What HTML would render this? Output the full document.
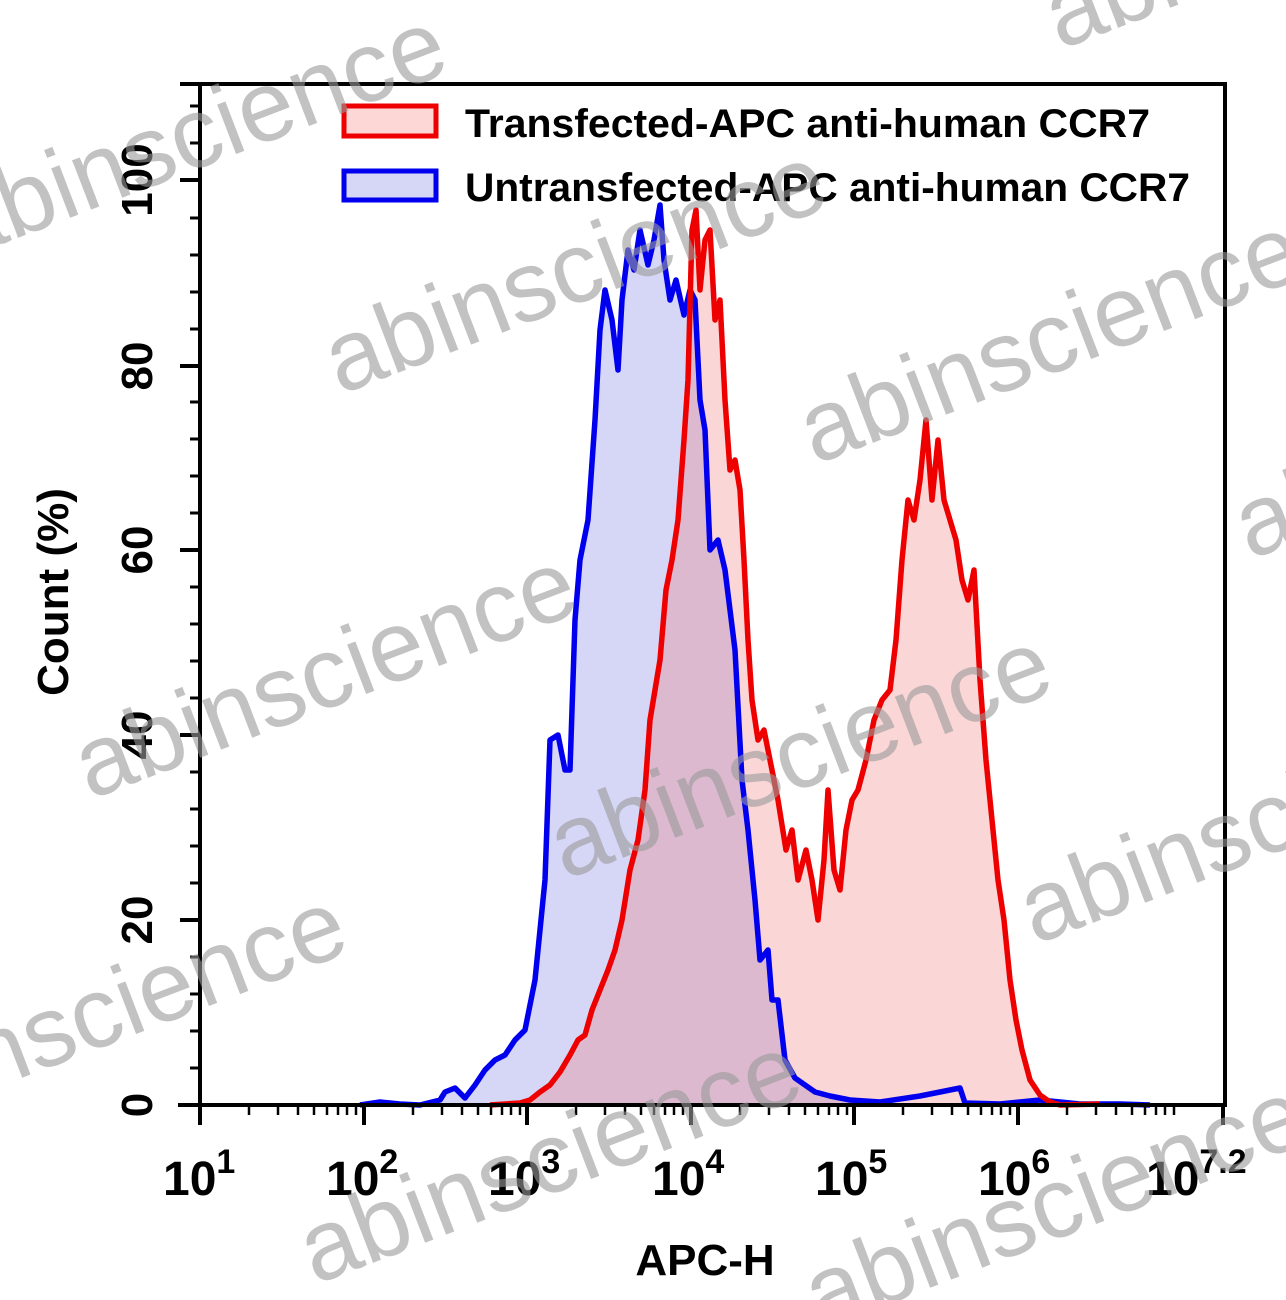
<!DOCTYPE html>
<html><head><meta charset="utf-8"><style>
html,body{margin:0;padding:0;background:#fff;}
svg{display:block;}
text{font-family:"Liberation Sans",Arial,sans-serif;}
</style></head><body>
<svg width="1286" height="1300" viewBox="0 0 1286 1300" xmlns="http://www.w3.org/2000/svg">
<polygon fill="#d6d6f7" points="440,1105 445,1095 455,1088 465,1098 475,1085 485,1070 495,1060 505,1055 515,1040 525,1030 535,980 545,880 550,740 558,735 565,770 570,770 575,620 580,560 588,520 595,420 600,330 605,290 612,320 618,370 622,300 628,250 634,270 640,230 648,265 654,240 660,205 664,260 670,300 676,280 684,315 690,290 695,300 700,400 705,430 710,550 718,540 725,570 730,610 735,650 742,780 748,830 755,900 760,960 768,950 772,1000 778,1000 785,1060 795,1078 805,1085 815,1092 830,1096 850,1100 880,1102 900,1105"/>
<polygon fill="rgba(240,120,120,0.3)" points="520,1105 530,1100 540,1092 550,1085 560,1072 570,1055 578,1040 585,1035 592,1010 600,990 608,970 615,950 622,920 630,870 638,840 645,790 650,720 655,690 660,660 666,590 672,560 678,520 684,440 688,380 692,230 696,210 700,290 705,240 710,230 715,320 720,300 725,400 730,470 735,460 740,490 744,560 748,640 752,700 758,740 764,730 770,760 778,800 786,850 792,830 798,880 806,850 812,880 818,920 824,860 828,790 834,870 840,890 846,830 852,800 858,790 866,760 874,720 882,700 890,690 896,640 902,560 908,500 914,520 920,480 926,420 932,500 938,440 944,500 950,520 956,540 962,580 968,600 974,570 980,680 986,760 992,820 998,880 1004,920 1010,980 1016,1020 1022,1050 1030,1080 1040,1095 1050,1102 1060,1105"/>
<polyline fill="none" stroke="#0000ee" stroke-width="5.5" stroke-linejoin="round" points="360,1105 380,1102 400,1104 420,1105 440,1100 445,1092 455,1088 465,1098 475,1085 485,1070 495,1060 505,1055 515,1040 525,1030 535,980 545,880 550,740 558,735 565,770 570,770 575,620 580,560 588,520 595,420 600,330 605,290 612,320 618,370 622,300 628,250 634,270 640,230 648,265 654,240 660,205 664,260 670,300 676,280 684,315 690,290 695,300 700,400 705,430 710,550 718,540 725,570 730,610 735,650 742,780 748,830 755,900 760,960 768,950 772,1000 778,1000 785,1060 795,1078 805,1085 815,1092 830,1096 850,1100 880,1102 920,1096 960,1088 965,1103 1000,1104 1040,1100 1080,1104 1120,1104 1150,1105"/>
<polyline fill="none" stroke="#ee0000" stroke-width="5.5" stroke-linejoin="round" points="490,1105 520,1103 530,1100 540,1092 550,1085 560,1072 570,1055 578,1040 585,1035 592,1010 600,990 608,970 615,950 622,920 630,870 638,840 645,790 650,720 655,690 660,660 666,590 672,560 678,520 684,440 688,380 692,230 696,210 700,290 705,240 710,230 715,320 720,300 725,400 730,470 735,460 740,490 744,560 748,640 752,700 758,740 764,730 770,760 778,800 786,850 792,830 798,880 806,850 812,880 818,920 824,860 828,790 834,870 840,890 846,830 852,800 858,790 866,760 874,720 882,700 890,690 896,640 902,560 908,500 914,520 920,480 926,420 932,500 938,440 944,500 950,520 956,540 962,580 968,600 974,570 980,680 986,760 992,820 998,880 1004,920 1010,980 1016,1020 1022,1050 1030,1080 1040,1095 1050,1102 1060,1105 1100,1104"/>
<rect x="200" y="84" width="1025" height="1021" fill="none" stroke="#000" stroke-width="4"/>
<g stroke="#000" stroke-width="4">
<line x1="180" y1="84" x2="200" y2="84"/>
<line x1="178" y1="1105" x2="1225" y2="1105"/>
<line x1="180" y1="1105" x2="200" y2="1105"/><line x1="180" y1="920" x2="200" y2="920"/><line x1="180" y1="735" x2="200" y2="735"/><line x1="180" y1="550" x2="200" y2="550"/><line x1="180" y1="366" x2="200" y2="366"/><line x1="180" y1="180" x2="200" y2="180"/>
</g>
<g stroke="#000" stroke-width="3">
<line x1="190" y1="1068" x2="200" y2="1068"/><line x1="190" y1="1031" x2="200" y2="1031"/><line x1="190" y1="994" x2="200" y2="994"/><line x1="190" y1="957" x2="200" y2="957"/>
<line x1="190" y1="883" x2="200" y2="883"/><line x1="190" y1="846" x2="200" y2="846"/><line x1="190" y1="809" x2="200" y2="809"/><line x1="190" y1="772" x2="200" y2="772"/>
<line x1="190" y1="698" x2="200" y2="698"/><line x1="190" y1="661" x2="200" y2="661"/><line x1="190" y1="624" x2="200" y2="624"/><line x1="190" y1="587" x2="200" y2="587"/>
<line x1="190" y1="513" x2="200" y2="513"/><line x1="190" y1="476" x2="200" y2="476"/><line x1="190" y1="439" x2="200" y2="439"/><line x1="190" y1="402" x2="200" y2="402"/>
<line x1="190" y1="329" x2="200" y2="329"/><line x1="190" y1="292" x2="200" y2="292"/><line x1="190" y1="255" x2="200" y2="255"/><line x1="190" y1="218" x2="200" y2="218"/>
<line x1="190" y1="143" x2="200" y2="143"/><line x1="190" y1="106" x2="200" y2="106"/>
</g>
<g stroke="#000" stroke-width="4">
<line x1="200" y1="1105" x2="200" y2="1125"/><line x1="364" y1="1105" x2="364" y2="1125"/><line x1="527" y1="1105" x2="527" y2="1125"/><line x1="691" y1="1105" x2="691" y2="1125"/><line x1="854" y1="1105" x2="854" y2="1125"/><line x1="1018" y1="1105" x2="1018" y2="1125"/><line x1="1223" y1="1105" x2="1223" y2="1125"/>
</g>
<g stroke="#000" stroke-width="2.5">
<line x1="249" y1="1105" x2="249" y2="1115"/><line x1="278" y1="1105" x2="278" y2="1115"/><line x1="298" y1="1105" x2="298" y2="1115"/><line x1="314" y1="1105" x2="314" y2="1115"/><line x1="327" y1="1105" x2="327" y2="1115"/><line x1="338" y1="1105" x2="338" y2="1115"/><line x1="347" y1="1105" x2="347" y2="1115"/><line x1="356" y1="1105" x2="356" y2="1115"/>
<line x1="413" y1="1105" x2="413" y2="1115"/><line x1="442" y1="1105" x2="442" y2="1115"/><line x1="462" y1="1105" x2="462" y2="1115"/><line x1="478" y1="1105" x2="478" y2="1115"/><line x1="491" y1="1105" x2="491" y2="1115"/><line x1="502" y1="1105" x2="502" y2="1115"/><line x1="511" y1="1105" x2="511" y2="1115"/><line x1="520" y1="1105" x2="520" y2="1115"/>
<line x1="576" y1="1105" x2="576" y2="1115"/><line x1="605" y1="1105" x2="605" y2="1115"/><line x1="625" y1="1105" x2="625" y2="1115"/><line x1="641" y1="1105" x2="641" y2="1115"/><line x1="654" y1="1105" x2="654" y2="1115"/><line x1="665" y1="1105" x2="665" y2="1115"/><line x1="674" y1="1105" x2="674" y2="1115"/><line x1="683" y1="1105" x2="683" y2="1115"/>
<line x1="740" y1="1105" x2="740" y2="1115"/><line x1="769" y1="1105" x2="769" y2="1115"/><line x1="789" y1="1105" x2="789" y2="1115"/><line x1="805" y1="1105" x2="805" y2="1115"/><line x1="818" y1="1105" x2="818" y2="1115"/><line x1="829" y1="1105" x2="829" y2="1115"/><line x1="838" y1="1105" x2="838" y2="1115"/><line x1="847" y1="1105" x2="847" y2="1115"/>
<line x1="903" y1="1105" x2="903" y2="1115"/><line x1="932" y1="1105" x2="932" y2="1115"/><line x1="952" y1="1105" x2="952" y2="1115"/><line x1="968" y1="1105" x2="968" y2="1115"/><line x1="981" y1="1105" x2="981" y2="1115"/><line x1="992" y1="1105" x2="992" y2="1115"/><line x1="1001" y1="1105" x2="1001" y2="1115"/><line x1="1010" y1="1105" x2="1010" y2="1115"/>
<line x1="1067" y1="1105" x2="1067" y2="1115"/><line x1="1096" y1="1105" x2="1096" y2="1115"/><line x1="1116" y1="1105" x2="1116" y2="1115"/><line x1="1132" y1="1105" x2="1132" y2="1115"/><line x1="1145" y1="1105" x2="1145" y2="1115"/><line x1="1156" y1="1105" x2="1156" y2="1115"/><line x1="1165" y1="1105" x2="1165" y2="1115"/><line x1="1174" y1="1105" x2="1174" y2="1115"/>
</g>
<g font-size="44" font-weight="bold" fill="#000" text-anchor="middle">
<text transform="translate(152,1105) rotate(-90)">0</text>
<text transform="translate(152,920) rotate(-90)">20</text>
<text transform="translate(152,735) rotate(-90)">40</text>
<text transform="translate(152,550) rotate(-90)">60</text>
<text transform="translate(152,366) rotate(-90)">80</text>
<text transform="translate(152,180) rotate(-90)">100</text>
<text transform="translate(68,592) rotate(-90)">Count (%)</text>
</g>
<g font-size="48" font-weight="bold" fill="#000">
<text x="163" y="1195">10<tspan dy="-22" font-size="34">1</tspan></text>
<text x="326" y="1195">10<tspan dy="-22" font-size="34">2</tspan></text>
<text x="488" y="1195">10<tspan dy="-22" font-size="34">3</tspan></text>
<text x="652" y="1195">10<tspan dy="-22" font-size="34">4</tspan></text>
<text x="815" y="1195">10<tspan dy="-22" font-size="34">5</tspan></text>
<text x="978" y="1195">10<tspan dy="-22" font-size="34">6</tspan></text>
<text x="1146" y="1195">10<tspan dy="-22" font-size="34">7.2</tspan></text>
<text x="705" y="1275" text-anchor="middle" font-size="44">APC-H</text>
</g>
<rect x="344" y="106" width="92" height="30" fill="#fdd6d6" stroke="#ee0000" stroke-width="5"/>
<rect x="344" y="171" width="92" height="29" fill="#d6d6f7" stroke="#0000ee" stroke-width="5"/>
<g font-size="40" font-weight="bold" fill="#000">
<text x="465" y="137" textLength="685" lengthAdjust="spacingAndGlyphs">Transfected-APC anti-human CCR7</text>
<text x="465" y="201" textLength="725" lengthAdjust="spacingAndGlyphs">Untransfected-APC anti-human CCR7</text>
</g>
<g font-size="100" fill="#999" fill-opacity="0.6">
<text transform="translate(-40,260) rotate(-21)">abinscience</text>
<text transform="translate(340,395) rotate(-21)">abinscience</text>
<text transform="translate(815,465) rotate(-21)">abinscience</text>
<text transform="translate(1060,50) rotate(-21)">abinscience</text>
<text transform="translate(90,800) rotate(-21)">abinscience</text>
<text transform="translate(565,880) rotate(-21)">abinscience</text>
<text transform="translate(1035,945) rotate(-21)">abinscience</text>
<text transform="translate(-140,1140) rotate(-21)">abinscience</text>
<text transform="translate(315,1285) rotate(-21)">abinscience</text>
<text transform="translate(820,1330) rotate(-21)">abinscience</text>
<text transform="translate(1250,560) rotate(-21)">abinscience</text>
</g>
</svg>
</body></html>
